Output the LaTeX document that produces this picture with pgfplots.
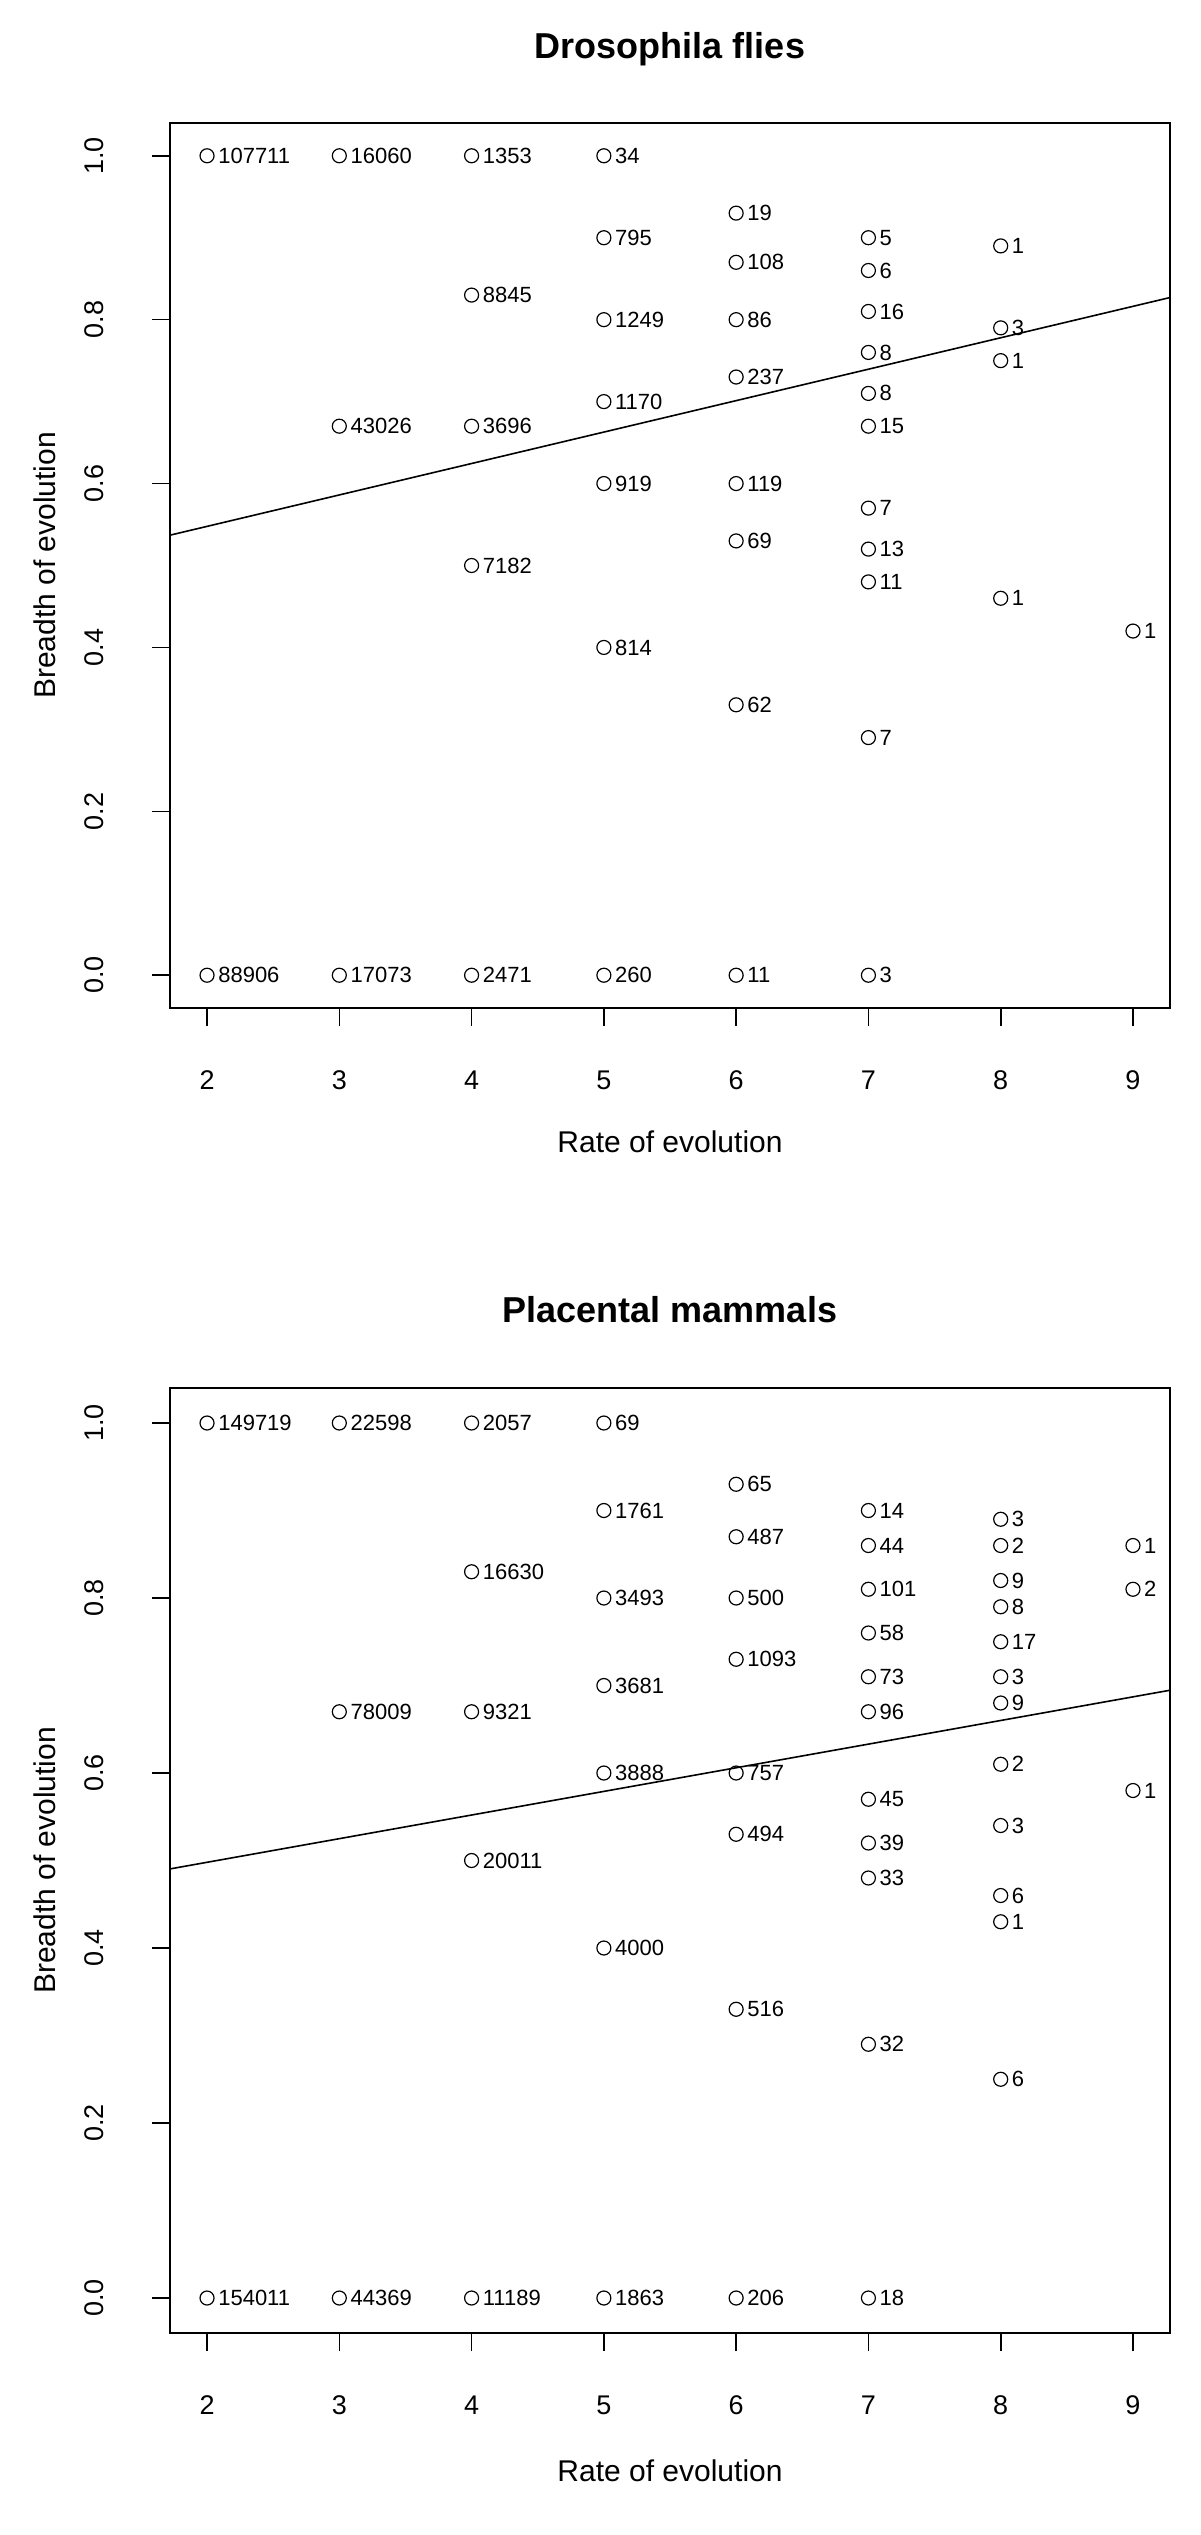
\documentclass[border=0pt]{standalone}
\usepackage{fontspec}
\setmainfont{Liberation Sans}
\usepackage{pgfplots}
\pgfplotsset{compat=1.18}
\usepackage{pgfplotstable}

\pgfplotstableread{
x y n
2 1.00 107711
2 0.00 88906
3 1.00 16060
3 0.67 43026
3 0.00 17073
4 1.00 1353
4 0.83 8845
4 0.67 3696
4 0.50 7182
4 0.00 2471
5 1.00 34
5 0.90 795
5 0.80 1249
5 0.70 1170
5 0.60 919
5 0.40 814
5 0.00 260
6 0.93 19
6 0.87 108
6 0.80 86
6 0.73 237
6 0.60 119
6 0.53 69
6 0.33 62
6 0.00 11
7 0.90 5
7 0.86 6
7 0.81 16
7 0.76 8
7 0.71 8
7 0.67 15
7 0.57 7
7 0.52 13
7 0.48 11
7 0.29 7
7 0.00 3
8 0.89 1
8 0.79 3
8 0.75 1
8 0.46 1
9 0.42 1
}\flies

\pgfplotstableread{
x y n
2 1.00 149719
2 0.00 154011
3 1.00 22598
3 0.67 78009
3 0.00 44369
4 1.00 2057
4 0.83 16630
4 0.67 9321
4 0.50 20011
4 0.00 11189
5 1.00 69
5 0.90 1761
5 0.80 3493
5 0.70 3681
5 0.60 3888
5 0.40 4000
5 0.00 1863
6 0.93 65
6 0.87 487
6 0.80 500
6 0.73 1093
6 0.60 757
6 0.53 494
6 0.33 516
6 0.00 206
7 0.90 14
7 0.86 44
7 0.81 101
7 0.76 58
7 0.71 73
7 0.67 96
7 0.57 45
7 0.52 39
7 0.48 33
7 0.29 32
7 0.00 18
8 0.89 3
8 0.86 2
8 0.82 9
8 0.79 8
8 0.75 17
8 0.71 3
8 0.68 9
8 0.61 2
8 0.54 3
8 0.46 6
8 0.43 1
8 0.25 6
9 0.86 1
9 0.81 2
9 0.58 1
}\mammals

\pgfplotsset{
  rstyle/.style={
    scale only axis,
    width=500pt,
    xmin=1.72, xmax=9.28, ymin=-0.04, ymax=1.04,
    xtick={2,3,4,5,6,7,8,9},
    ytick={0,0.2,0.4,0.6,0.8,1},
    tick align=outside,
    major tick length=9pt,
    xtick pos=bottom, ytick pos=left,
    axis line style={line width=0.8pt},
    every tick/.style={black, line width=0.8pt},
    tick label style={font=\fontsize{13.5}{16}\selectfont, /pgf/number format/assume math mode=true},
    xticklabel style={anchor=center, yshift=-#1},
    yticklabel style={/pgf/number format/fixed, /pgf/number format/fixed zerofill, /pgf/number format/precision=1, anchor=center, xshift=-29pt, rotate=90},
    label style={font=\fontsize{15}{18}\selectfont},
    title style={at={(axis description cs:0.5,1)}, anchor=center, font=\bfseries\fontsize{18}{21}\selectfont},
    ylabel style={at={(axis description cs:0,0.5)}, anchor=center, yshift=62.5pt},
    ylabel={Breadth of evolution},
    xlabel={Rate of evolution},
  },
  labelled/.style={
    only marks, black, mark=o, mark size=3.5pt,
    mark options={line width=0.6pt},
    nodes near coords, point meta=explicit symbolic,
    every node near coord/.append style={font=\fontsize{11}{13}\selectfont, anchor=west, xshift=2pt, black},
  },
}

\begin{document}
\begin{tikzpicture}
\path[use as bounding box] (0,0) rectangle (600pt,-1267.5pt);

\begin{axis}[rstyle=27pt,
  at={(85pt,-61.5pt)}, anchor=north west, height=442.5pt,
  title={Drosophila flies}, title style={yshift=31pt},
  xlabel style={at={(axis description cs:0.5,0)}, anchor=center, yshift=-67pt},
]
\addplot[labelled] table[x=x, y=y, meta=n] {\flies};
\addplot[black, line width=0.8pt] coordinates {(1.72,0.537) (9.28,0.827)};
\end{axis}

\begin{axis}[rstyle=27pt,
  at={(85pt,-694pt)}, anchor=north west, height=472.5pt,
  title={Placental mammals}, title style={yshift=33pt},
  xlabel style={at={(axis description cs:0.5,0)}, anchor=center, yshift=-69pt},
]
\addplot[labelled] table[x=x, y=y, meta=n] {\mammals};
\addplot[black, line width=0.8pt] coordinates {(1.72,0.4904) (9.28,0.6946)};
\end{axis}
\end{tikzpicture}
\end{document}
